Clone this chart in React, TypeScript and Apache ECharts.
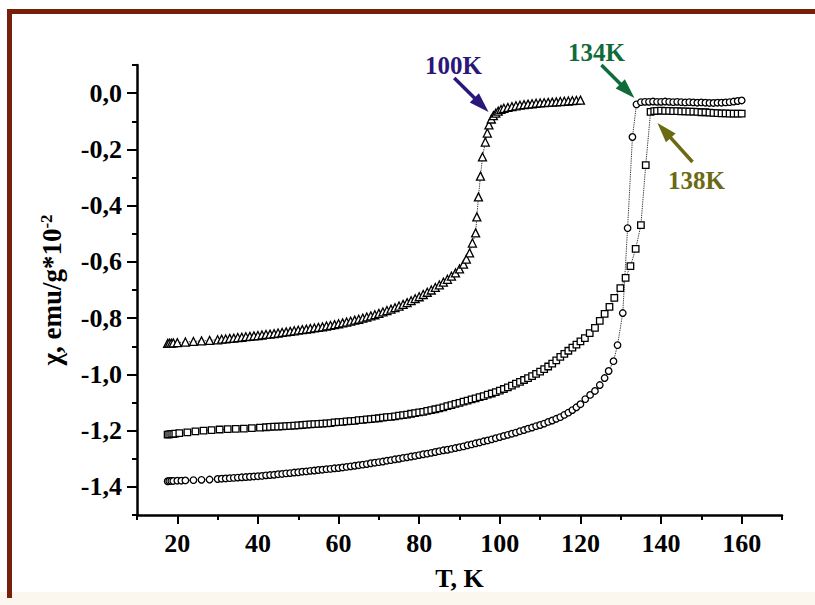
import React, { useEffect, useRef } from "react";
import * as echarts from "echarts";

// ---------- axis ticks ----------
const xTickLabels = [20, 40, 60, 80, 100, 120, 140, 160];
const xMinorTicks = [10, 30, 50, 70, 90, 110, 130, 150, 170];
const yTickLabels = [-1.4, -1.2, -1.0, -0.8, -0.6, -0.4, -0.2, 0.0];
const yMinorTicks = [-1.5, -1.3, -1.1, -0.9, -0.7, -0.5, -0.3, -0.1, 0.1];

// ---------- series: triangles (Tc = 100 K) ----------
const triangleT = [
  17.6, 18, 18.5, 19, 20, 22, 24, 26, 28, 30, 31, 32, 33, 34, 35, 36, 37, 38, 39, 40,
  41, 42, 43, 44, 45, 46, 47, 48, 49, 50, 51, 52, 53, 54, 55, 56, 57, 58, 59, 60,
  61, 62, 63, 64, 65, 66, 67, 68, 69, 70, 71, 72, 73, 74, 75, 76, 77, 78, 79, 80,
  81, 82, 83, 84, 85, 86, 87, 88, 89, 90, 91, 91.7, 92.5, 93.2, 94, 94.3, 94.7, 95.2, 95.7, 96.4,
  96.9, 97.3, 97.9, 98.4, 99, 99.6, 100.3, 101, 102, 103, 104, 105, 106, 107, 108, 109, 110,
  111, 112, 113, 114, 115, 116, 117, 118, 119, 120,
];
const triangleChi = [
  -0.890, -0.889, -0.889, -0.888, -0.887, -0.885, -0.883, -0.881, -0.879, -0.877, -0.875, -0.874, -0.872, -0.871, -0.869, -0.868, -0.866, -0.865, -0.863, -0.862,
  -0.860, -0.858, -0.857, -0.855, -0.853, -0.851, -0.849, -0.847, -0.845, -0.843, -0.841, -0.839, -0.837, -0.835, -0.833, -0.831, -0.828, -0.826, -0.823, -0.820,
  -0.817, -0.814, -0.811, -0.807, -0.804, -0.800, -0.796, -0.792, -0.788, -0.783, -0.778, -0.773, -0.768, -0.763, -0.757, -0.751, -0.745, -0.738, -0.731, -0.724,
  -0.716, -0.708, -0.700, -0.691, -0.682, -0.672, -0.662, -0.651, -0.639, -0.625, -0.608, -0.590, -0.568, -0.533, -0.497, -0.440, -0.369, -0.295, -0.227, -0.174,
  -0.142, -0.113, -0.092, -0.080, -0.071, -0.064, -0.058, -0.054, -0.051, -0.048, -0.045, -0.043, -0.041, -0.039, -0.038, -0.036, -0.035,
  -0.034, -0.033, -0.032, -0.031, -0.030, -0.029, -0.028, -0.027, -0.026, -0.025,
];

// ---------- series: squares (Tc = 138 K) ----------
const squareT = [
  17.6, 18, 18.5, 19, 19.5, 20.5, 22.5, 24.5, 26.5, 28.5, 30.5, 32.5, 34.5, 36.5, 38.5, 40.5, 42, 43, 44, 45,
  46, 47, 48, 49, 50, 51, 52, 53, 54, 55, 56, 57, 58, 59, 60, 61, 62, 63, 64, 65,
  66, 67, 68, 69, 70, 71, 72, 73, 74, 75, 76, 77, 78, 79, 80, 81, 82, 83, 84, 85,
  86, 87, 88, 89, 90, 91, 92, 93, 94, 95, 96, 97, 98, 99, 100, 101, 102, 103, 104, 105,
  106, 107, 108, 109, 110, 111, 112, 113, 114, 115, 116, 117, 118, 119, 120, 121.1, 122.3, 123.6, 124.8, 126,
  127.2, 128.4, 129.9, 131.2, 132.4, 133.7, 135, 136.2, 137.4, 138.3, 139, 140, 141, 142, 143, 144, 145, 146, 147, 148,
  149, 150, 151, 152, 153, 154, 155, 156, 157, 158, 159, 160,
];
const squareChi = [
  -1.214, -1.213, -1.212, -1.212, -1.211, -1.209, -1.206, -1.203, -1.200, -1.198, -1.196, -1.195, -1.194, -1.193, -1.191, -1.189, -1.188, -1.187, -1.186, -1.186,
  -1.185, -1.184, -1.183, -1.182, -1.181, -1.180, -1.179, -1.178, -1.177, -1.176, -1.175, -1.174, -1.173, -1.171, -1.170, -1.169, -1.167, -1.166, -1.165, -1.163,
  -1.162, -1.160, -1.159, -1.157, -1.156, -1.154, -1.152, -1.151, -1.149, -1.147, -1.145, -1.143, -1.140, -1.138, -1.135, -1.133, -1.130, -1.127, -1.124, -1.121,
  -1.117, -1.113, -1.109, -1.105, -1.101, -1.097, -1.093, -1.089, -1.085, -1.081, -1.077, -1.072, -1.068, -1.063, -1.058, -1.052, -1.046, -1.040, -1.033, -1.027,
  -1.020, -1.013, -1.006, -0.998, -0.990, -0.981, -0.972, -0.962, -0.950, -0.938, -0.927, -0.916, -0.905, -0.894, -0.883, -0.871, -0.853, -0.835, -0.810, -0.785,
  -0.760, -0.728, -0.693, -0.657, -0.615, -0.554, -0.469, -0.256, -0.067, -0.064, -0.063, -0.062, -0.063, -0.063, -0.064, -0.064, -0.065, -0.065, -0.066, -0.066,
  -0.067, -0.068, -0.068, -0.069, -0.070, -0.071, -0.072, -0.072, -0.073, -0.073, -0.073, -0.073,
];

// ---------- series: circles (Tc = 134 K) ----------
const circleT = [
  17.6, 18, 18.5, 19, 20, 21, 22, 24, 26, 28, 30, 31, 32, 33, 34, 35, 36, 37, 38, 39,
  40, 41, 42, 43, 44, 45, 46, 47, 48, 49, 50, 51, 52, 53, 54, 55, 56, 57, 58, 59,
  60, 61, 62, 63, 64, 65, 66, 67, 68, 69, 70, 71, 72, 73, 74, 75, 76, 77, 78, 79,
  80, 81, 82, 83, 84, 85, 86, 87, 88, 89, 90, 91, 92, 93, 94, 95, 96, 97, 98, 99,
  100, 101, 102, 103, 104, 105, 106, 107, 108, 109, 110, 111, 112, 113, 114, 115, 116, 117, 118, 119,
  120, 121.2, 122.4, 123.6, 124.8, 126, 127, 128.2, 129.2, 130.5, 131.7, 132.9, 133.9, 135, 136, 137, 138, 139, 140, 141,
  142, 143, 144, 145, 146, 147, 148, 149, 150, 151, 152, 153, 154, 155, 156, 157, 158, 159, 160,
];
const circleChi = [
  -1.380, -1.379, -1.379, -1.379, -1.378, -1.378, -1.377, -1.376, -1.375, -1.374, -1.372, -1.371, -1.370, -1.369, -1.368, -1.367, -1.366, -1.365, -1.364, -1.363,
  -1.362, -1.361, -1.359, -1.358, -1.357, -1.355, -1.354, -1.352, -1.351, -1.349, -1.348, -1.346, -1.345, -1.343, -1.342, -1.340, -1.339, -1.337, -1.336, -1.334,
  -1.333, -1.331, -1.329, -1.327, -1.325, -1.323, -1.321, -1.319, -1.316, -1.314, -1.312, -1.310, -1.307, -1.305, -1.302, -1.300, -1.297, -1.295, -1.292, -1.290,
  -1.287, -1.284, -1.282, -1.279, -1.276, -1.273, -1.270, -1.268, -1.265, -1.262, -1.259, -1.256, -1.252, -1.249, -1.245, -1.242, -1.238, -1.235, -1.231, -1.227,
  -1.223, -1.219, -1.215, -1.211, -1.207, -1.202, -1.198, -1.193, -1.189, -1.184, -1.180, -1.175, -1.169, -1.164, -1.158, -1.152, -1.144, -1.136, -1.127, -1.117,
  -1.106, -1.088, -1.073, -1.059, -1.038, -1.013, -0.988, -0.953, -0.896, -0.782, -0.480, -0.156, -0.040, -0.032, -0.031, -0.031, -0.030, -0.031, -0.031, -0.030,
  -0.031, -0.032, -0.031, -0.032, -0.033, -0.032, -0.033, -0.034, -0.033, -0.034, -0.035, -0.035, -0.034, -0.034, -0.033, -0.032, -0.030, -0.028, -0.026,
];

// ---------- annotations (data coordinates) ----------
const annotationLabels = ["100K", "134K", "138K"];
const annotationColors = ["#2b1679", "#0f6b3a", "#6a6a12"];
const annotationTextAt = [[88.5, 0.1], [124.0, 0.143], [148.8, -0.309]];
const arrowTail = [[88.7, 0.054], [125.2, 0.1], [147.8, -0.245]];
const arrowTip = [[97.2, -0.067], [133.4, -0.017], [139.1, -0.106]];

const SERIF = '"Liberation Serif", "Times New Roman", serif';
const fmtY = (v: number) => v.toFixed(1).replace(".", ",");

const pairs = (xs: number[], ys: number[]) => xs.map((x, i) => [x, ys[i]]);

export default function App() {
  const ref = useRef<HTMLDivElement>(null);

  useEffect(() => {
    if (!ref.current) return;
    const chart = echarts.init(ref.current, null, { renderer: "svg" });

    const markerStyle = { color: "#ffffff", borderColor: "#000000", borderWidth: 1.3 };
    const lineStyle = { color: "#000000", width: 0.9, type: "dotted" as const };

    const option: any = {
      animation: false,
      backgroundColor: "#ffffff",
      grid: { left: 137, right: 33, top: 65, bottom: 90, containLabel: false, outerBoundsMode: "none" },
      xAxis: [
        {
          type: "value",
          min: 10,
          max: 170,
          position: "bottom",
          name: "T, K",
          nameLocation: "middle",
          nameGap: 50,
          nameTextStyle: { fontFamily: SERIF, fontWeight: "bold", fontSize: 26, color: "#000" },
          axisLine: { show: true, onZero: false, lineStyle: { color: "#000", width: 2.5 } },
          axisTick: { show: true, customValues: xTickLabels, length: 9, lineStyle: { color: "#000", width: 2 } },
          axisLabel: {
            customValues: xTickLabels,
            margin: 15,
            fontFamily: SERIF,
            fontWeight: "bold",
            fontSize: 26,
            color: "#000",
          },
          splitLine: { show: false },
        },
        {
          type: "value",
          min: 10,
          max: 170,
          position: "bottom",
          axisLine: { show: false, onZero: false },
          axisTick: { show: true, customValues: xMinorTicks, length: 5, lineStyle: { color: "#000", width: 2 } },
          axisLabel: { show: false },
          splitLine: { show: false },
        },
      ],
      yAxis: [
        {
          type: "value",
          min: -1.5,
          max: 0.1,
          position: "left",
          name: "χ, emu/g*10{sup|-2}",
          nameLocation: "middle",
          nameRotate: 90,
          nameGap: 72,
          nameTextStyle: {
            fontFamily: SERIF,
            fontWeight: "bold",
            fontSize: 27,
            color: "#000",
            rich: {
              sup: { fontFamily: SERIF, fontWeight: "bold", fontSize: 17, color: "#000", verticalAlign: "top" },
            },
          },
          axisLine: { show: true, onZero: false, lineStyle: { color: "#000", width: 2.5 } },
          axisTick: { show: true, customValues: yTickLabels, length: 10, lineStyle: { color: "#000", width: 2 } },
          axisLabel: {
            customValues: yTickLabels,
            formatter: (v: number) => fmtY(v),
            margin: 15,
            fontFamily: SERIF,
            fontWeight: "bold",
            fontSize: 26,
            color: "#000",
          },
          splitLine: { show: false },
        },
        {
          type: "value",
          min: -1.5,
          max: 0.1,
          position: "left",
          axisLine: { show: false, onZero: false },
          axisTick: { show: true, customValues: yMinorTicks, length: 5, lineStyle: { color: "#000", width: 2 } },
          axisLabel: { show: false },
          splitLine: { show: false },
        },
      ],
      series: [
        {
          type: "line",
          name: "100K",
          xAxisIndex: 0,
          yAxisIndex: 0,
          data: pairs(triangleT, triangleChi),
          symbol: "triangle",
          symbolSize: 8,
          showSymbol: true,
          lineStyle,
          itemStyle: markerStyle,
          z: 3,
        },
        {
          type: "line",
          name: "138K",
          xAxisIndex: 0,
          yAxisIndex: 0,
          data: pairs(squareT, squareChi),
          symbol: "rect",
          symbolSize: 6.5,
          showSymbol: true,
          lineStyle,
          itemStyle: markerStyle,
          z: 3,
        },
        {
          type: "line",
          name: "134K",
          xAxisIndex: 0,
          yAxisIndex: 0,
          data: pairs(circleT, circleChi),
          symbol: "circle",
          symbolSize: 6.5,
          showSymbol: true,
          lineStyle,
          itemStyle: markerStyle,
          z: 3,
        },
      ],
    };

    chart.setOption(option);

    const frameColor = "#761f0b";
    const graphics: any[] = [
      { type: "rect", shape: { x: 0, y: 592, width: 815, height: 13 }, style: { fill: "#fbf7ee" }, z: 0, silent: true },
      { type: "rect", shape: { x: 7, y: 9, width: 808, height: 5 }, style: { fill: frameColor }, z: 10, silent: true },
      { type: "rect", shape: { x: 7, y: 9, width: 5, height: 589 }, style: { fill: frameColor }, z: 10, silent: true },
    ];

    annotationLabels.forEach((label, i) => {
      const color = annotationColors[i];
      const t = chart.convertToPixel({ seriesIndex: 0 }, annotationTextAt[i]) as number[];
      const p0 = chart.convertToPixel({ seriesIndex: 0 }, arrowTail[i]) as number[];
      const p1 = chart.convertToPixel({ seriesIndex: 0 }, arrowTip[i]) as number[];
      const dx = p1[0] - p0[0];
      const dy = p1[1] - p0[1];
      const len = Math.sqrt(dx * dx + dy * dy);
      const ux = dx / len;
      const uy = dy / len;
      const headLen = 20;
      const hw = 6.5;
      const bx = p1[0] - ux * headLen;
      const by = p1[1] - uy * headLen;
      graphics.push({
        type: "line",
        shape: { x1: p0[0], y1: p0[1], x2: bx + ux * 2, y2: by + uy * 2 },
        style: { stroke: color, lineWidth: 3.5 },
        z: 20,
        silent: true,
      });
      graphics.push({
        type: "polygon",
        shape: {
          points: [
            [p1[0], p1[1]],
            [bx - uy * hw, by + ux * hw],
            [bx + uy * hw, by - ux * hw],
          ],
        },
        style: { fill: color },
        z: 20,
        silent: true,
      });
      graphics.push({
        type: "text",
        x: t[0],
        y: t[1],
        style: {
          text: label,
          fill: color,
          font: `bold 25px ${SERIF}`,
          align: "center",
          verticalAlign: "middle",
        },
        z: 20,
        silent: true,
      });
    });

    chart.setOption({ graphic: graphics });

    return () => {
      chart.dispose();
    };
  }, []);

  return (
    <div
      ref={ref}
      style={{ position: "fixed", left: 0, top: 0, width: 815, height: 605, background: "#fff" }}
    />
  );
}
